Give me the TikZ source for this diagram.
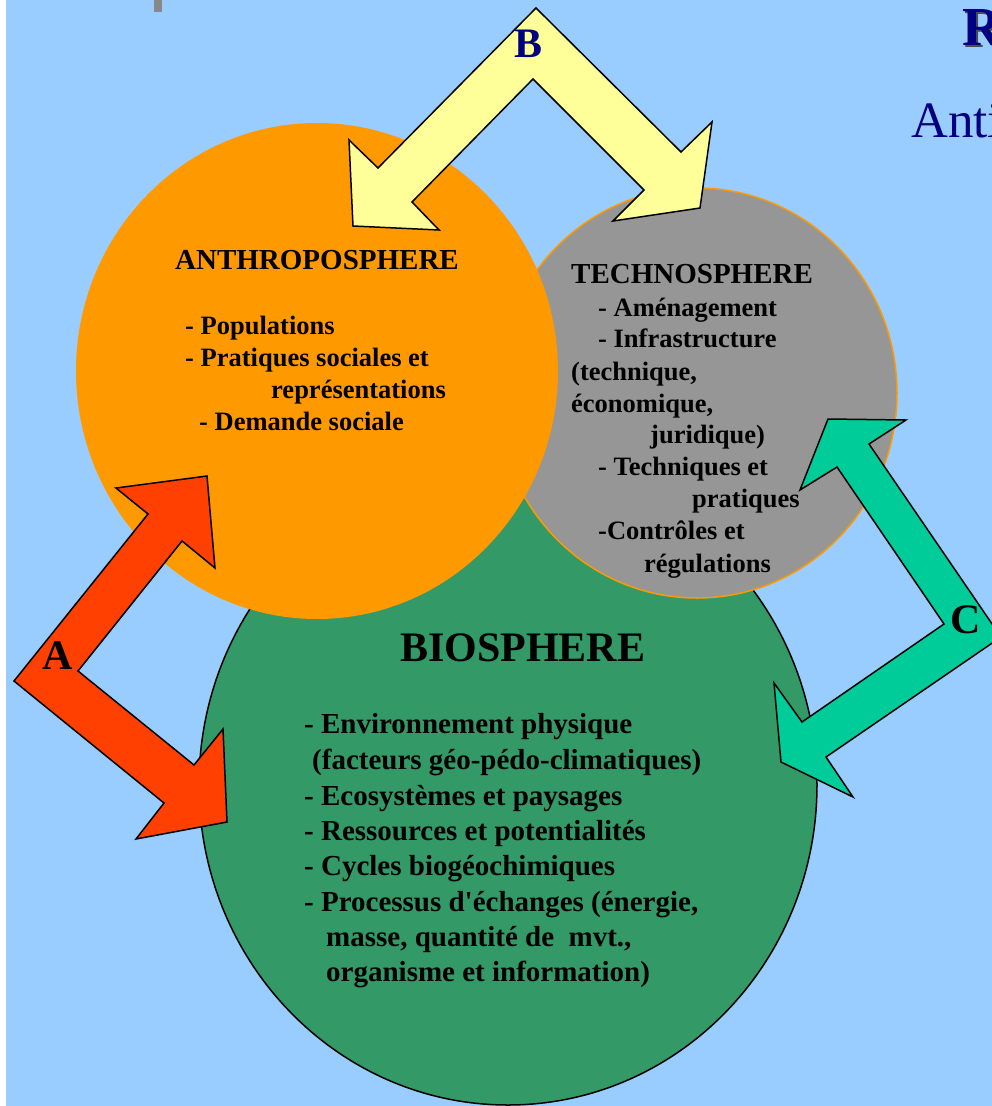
\documentclass[tikz,border=0pt]{standalone}
\usepackage{fontspec}
\setmainfont{Liberation Serif}
\definecolor{bgblue}{HTML}{99CCFF}
\definecolor{anthro}{HTML}{FF9900}
\definecolor{techno}{HTML}{969696}
\definecolor{bio}{HTML}{339966}
\definecolor{arrA}{HTML}{FF4000}
\definecolor{arrB}{HTML}{FFFF99}
\definecolor{arrC}{HTML}{00CC99}
\definecolor{navyt}{HTML}{000080}
\definecolor{barg}{HTML}{888888}
\begin{document}
\begin{tikzpicture}[x=1pt,y=-1pt,
  txt/.style={anchor=base west, inner sep=0pt, font=\bfseries\fontsize{26.5}{26.5}\selectfont},
  ttl/.style={anchor=base west, inner sep=0pt, font=\bfseries\fontsize{29}{29}\selectfont},
  btxt/.style={anchor=base west, inner sep=0pt, font=\bfseries\fontsize{29}{29}\selectfont},
  big/.style={anchor=base west, inner sep=0pt, font=\bfseries\fontsize{42}{42}\selectfont},
  arrowshape/.style={draw=black, line width=1.5pt, line join=miter}]
\useasboundingbox (0,0) rectangle (992,1106);
\clip (0,0) rectangle (992,1106);
\fill[white] (0,0) rectangle (992,1106);
\fill[bgblue] (6,0) rectangle (992,1106);
\fill[barg] (154,0) rectangle (162,12);
% circles
\filldraw[fill=bio, draw=black, line width=1.5pt] (508,785) ellipse [x radius=309pt, y radius=320pt];
\filldraw[fill=techno, draw=anthro, line width=1.5pt] (697,393) ellipse [x radius=200pt, y radius=205pt];
\fill[anthro] (317,371) ellipse [x radius=241pt, y radius=248pt];
% arrows
\filldraw[arrowshape, fill=arrA] (14,681) -- (148,514) -- (116,488) -- (207,476) -- (215,568) -- (182,541) -- (78,671) -- (194,765) -- (223,729) -- (227,822) -- (136,839) -- (164,803) -- cycle;
\filldraw[arrowshape, fill=arrB] (536,8) -- (681,152) -- (712,122) -- (700,208) -- (613,221) -- (644,190) -- (533,79) -- (412,202) -- (439,230) -- (353,226) -- (349,140) -- (378,168) -- cycle;
\filldraw[arrowshape, fill=arrC] (1001,637) -- (869,444) -- (906,420) -- (828,419) -- (800,490) -- (837,467) -- (944,624) -- (802,722) -- (774,683) -- (781,762) -- (853,797) -- (826,757) -- cycle;
% labels
\node[big] (la) at (42,669) {A};
\node[big, text=navyt] (lb) at (514,57) {B};
\node[big] (lc) at (950,633) {C};
\node[anchor=base west, inner sep=0pt, text=black!70, font=\bfseries\fontsize{55}{55}\selectfont] (rs) at (964,47) {R};
\node[anchor=base west, inner sep=0pt, text=navyt, font=\bfseries\fontsize{55}{55}\selectfont] (rt) at (962,45) {R};
\node[anchor=base west, inner sep=0pt, text=navyt, font=\fontsize{51}{51}\selectfont] (anti) at (911,137) {Anti};
% anthroposphere
\node[ttl] (a0) at (175,269) {ANTHROPOSPHERE};
\node[txt] (a1) at (185,334) {- Populations};
\node[txt] (a2) at (185,366) {- Pratiques sociales et};
\node[txt] (a3) at (271,398) {représentations};
\node[txt] (a4) at (199,430) {- Demande sociale};
% technosphere
\node[ttl] (t0) at (571,283) {TECHNOSPHERE};
\node[txt] (t1) at (598,316) {- Aménagement};
\node[txt] (t2) at (598,347) {- Infrastructure};
\node[txt] (t3) at (571,380) {(technique,};
\node[txt] (t4) at (571,412) {économique,};
\node[txt] (t5) at (650,443) {juridique)};
\node[txt] (t6) at (598,475) {- Techniques et};
\node[txt] (t7) at (692,507) {pratiques};
\node[txt] (t8) at (598,539) {-Contrôles et};
\node[txt] (t9) at (644,572) {régulations};
% biosphere
\node[big] (b0) at (400,661) {BIOSPHERE};
\node[btxt] (b1) at (304,733) {- Environnement physique};
\node[btxt] (b2) at (312,769) {(facteurs géo-pédo-climatiques)};
\node[btxt] (b3) at (304,805) {- Ecosystèmes et paysages};
\node[btxt] (b4) at (304,840) {- Ressources et potentialités};
\node[btxt] (b5) at (304,875) {- Cycles biogéochimiques};
\node[btxt] (b6) at (304,911) {- Processus d\textquotesingle échanges (énergie,};
\node[btxt] (b7) at (326,946) {masse, quantité de~ mvt.,};
\node[btxt] (b8) at (326,981) {organisme et information)};
\end{tikzpicture}
\end{document}
